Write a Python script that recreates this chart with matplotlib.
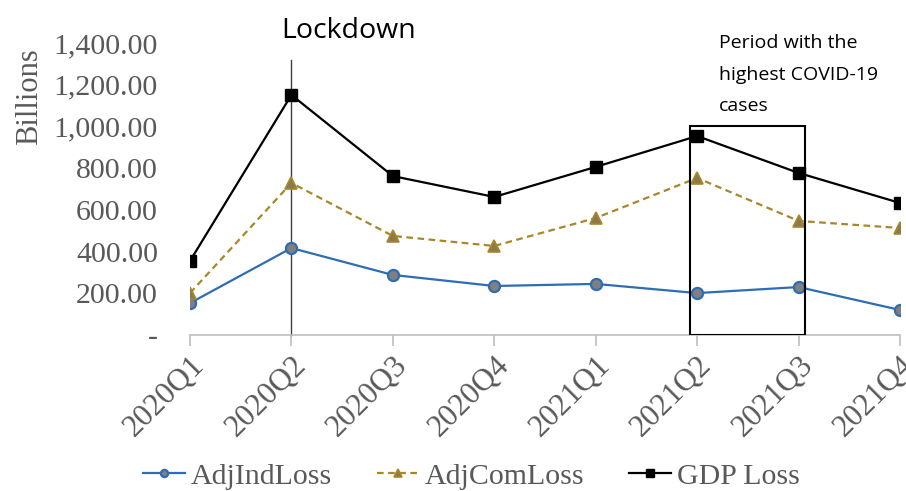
import matplotlib
matplotlib.use("Agg")
import matplotlib.pyplot as plt
from matplotlib.patches import Rectangle
from matplotlib.ticker import FuncFormatter

quarters = ["2020Q1", "2020Q2", "2020Q3", "2020Q4", "2021Q1", "2021Q2", "2021Q3", "2021Q4"]
adj_ind_loss = [153, 417, 288, 235, 245, 201, 230, 120]
adj_com_loss = [201, 729, 475, 427, 561, 753, 547, 513]
gdp_loss = [355, 1151, 762, 662, 806, 954, 777, 633]
y_ticks = [0, 200, 400, 600, 800, 1000, 1200, 1400]

serif = ["Liberation Serif", "DejaVu Serif"]
sans = ["Open Sans", "DejaVu Sans"]
grey = "#595959"

fig = plt.figure(figsize=(9.06, 4.91), dpi=100)
ax = fig.add_axes([0.2097, 0.3177, 0.7837, 0.5947])
x = list(range(len(quarters)))

ax.plot(x, adj_ind_loss, color="#2E6DB4", lw=1.6, marker="o", ms=8,
        mfc="#808080", mec="#2E6DB4", mew=1.6, label="AdjIndLoss", zorder=3)
ax.plot(x, adj_com_loss, color="#A8862A", lw=1.6, ls=(0, (3, 2)), marker="^", ms=8,
        mfc="#8C7A4A", mec="#A8862A", mew=1.2, label="AdjComLoss", zorder=3)
ax.plot(x, gdp_loss, color="black", lw=1.6, marker="s", ms=9,
        mfc="black", mec="black", label="GDP Loss", zorder=3)

ax.set_xlim(0, len(quarters) - 1)
ax.set_ylim(0, 1400)
ax.set_yticks(y_ticks)
ax.yaxis.set_major_formatter(FuncFormatter(lambda v, p: "-" if v == 0 else f"{v:,.2f}"))
ax.set_xticks(x)
ax.set_xticklabels(quarters, rotation=45, ha="right", rotation_mode="anchor")

for s in ["top", "right", "left"]:
    ax.spines[s].set_visible(False)
ax.spines["bottom"].set_color("#BFBFBF")
ax.spines["bottom"].set_linewidth(1.2)
ax.tick_params(axis="y", length=0, pad=23, labelsize=21.5, labelcolor=grey)
ax.tick_params(axis="x", length=8, color="#BFBFBF", width=1.2, pad=3, labelsize=22.5, labelcolor=grey)
for lab in ax.get_xticklabels() + ax.get_yticklabels():
    lab.set_family(serif)

ax.set_ylabel("Billions", family=serif, fontsize=22, color=grey)
ax.yaxis.set_label_coords(-0.205, 0.815)

# Lockdown line
ax.plot([1, 1], [0, 1320], color="#404040", lw=1.0, zorder=2, clip_on=False)
fig.text(0.385, 0.936, "Lockdown", family=sans, fontsize=20.5, ha="center", va="center")

# Highlight box
ax.add_patch(Rectangle((4.93, 0), 1.13, 1000, fill=False, ec="black", lw=1.5, zorder=4))
fig.text(0.794, 0.93, "Period with the\nhighest COVID-19\ncases", family=sans, fontsize=14,
         ha="left", va="top", linespacing=1.95)

leg = fig.legend(loc="lower center", bbox_to_anchor=(0.52, -0.052), ncol=3, frameon=False,
                 prop={"family": serif, "size": 21.5}, handlelength=1.4, columnspacing=1.5,
                 handletextpad=0.2, markerscale=0.65)
for t in leg.get_texts():
    t.set_color(grey)

fig.savefig("out.png", dpi=100)
